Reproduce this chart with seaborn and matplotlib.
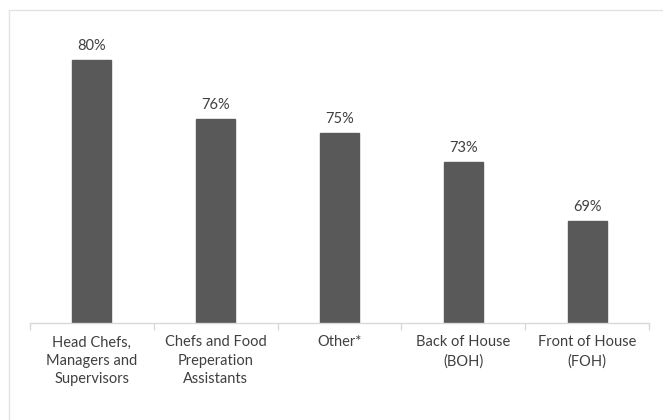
import matplotlib
matplotlib.use("Agg")
import matplotlib.pyplot as plt
import seaborn as sns
import pandas as pd
from matplotlib.lines import Line2D

categories = ["Head Chefs,\nManagers and\nSupervisors",
              "Chefs and Food\nPreperation\nAssistants",
              "Other*",
              "Back of House\n(BOH)",
              "Front of House\n(FOH)"]
values = [80, 76, 75, 73, 69]
labels = ["80%", "76%", "75%", "73%", "69%"]

sns.set_style("white")
plt.rcParams['font.family'] = ['Lato', 'DejaVu Sans']

W, H = 663, 420
fig = plt.figure(figsize=(W / 100, H / 100), dpi=100)
# light chart-area border (top and left visible)
fig.lines.append(Line2D([8.5 / W, 8.5 / W], [0, (H - 9.5) / H], transform=fig.transFigure,
                        color="#e3e3e3", linewidth=1.0))
fig.lines.append(Line2D([8.5 / W, 1], [(H - 9.5) / H, (H - 9.5) / H], transform=fig.transFigure,
                        color="#e3e3e3", linewidth=1.0))

ax = fig.add_axes([30 / W, (H - 323) / H, (649 - 30) / W, (323 - 31) / H])
df = pd.DataFrame({"cat": categories, "val": values})
sns.barplot(data=df, x="cat", y="val", color="#595959", width=0.315, ax=ax,
            saturation=1, edgecolor="#595959")
ax.set_ylim(62, 82)
ax.set_xlim(-0.5, len(values) - 0.5)
ax.set_xlabel("")
ax.set_ylabel("")
ax.set_yticks([])
for s in ["top", "right", "left"]:
    ax.spines[s].set_visible(False)
ax.spines["bottom"].set_color("#d9d9d9")
ax.spines["bottom"].set_linewidth(1.0)

ax.set_xticks([i - 0.5 for i in range(len(values) + 1)], minor=True)
ax.set_xticks(range(len(values)))
ax.set_xticklabels(categories, fontsize=10.5, color="#404040", linespacing=1.4)
ax.tick_params(axis="x", which="major", length=0, pad=9)
ax.tick_params(axis="x", which="minor", length=5, color="#d9d9d9", width=1, direction="out", bottom=True)

for i, (v, lab) in enumerate(zip(values, labels)):
    ax.annotate(lab, (i, v), xytext=(0, 5), textcoords="offset points",
                ha="center", va="bottom", fontsize=10.5, color="#404040")

fig.savefig("out.png", dpi=100)
